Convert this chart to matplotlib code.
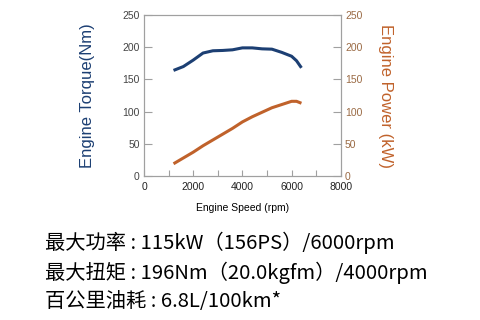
import matplotlib
matplotlib.use("Agg")
import matplotlib.pyplot as plt

# engine curves
rpm = [1200, 1600, 2000, 2400, 2800, 3200, 3600, 4000, 4400, 4800, 5200, 5600, 6000, 6200, 6400]
torque = [164, 170, 180, 191, 194.5, 195, 196, 199, 199, 197.5, 197, 192, 186, 179, 168]
power = [19, 28, 37, 47, 56, 65, 74, 84, 92, 99, 106, 111, 116, 116, 113]

x_ticks = [0, 1000, 2000, 3000, 4000, 5000, 6000, 7000, 8000]
x_labels = ['0', '', '2000', '', '4000', '', '6000', '', '8000']
y_ticks = [0, 50, 100, 150, 200, 250]

spec_lines = [
    "最大功率 : 115kW（156PS）/6000rpm",
    "最大扭矩 : 196Nm（20.0kgfm）/4000rpm",
    "百公里油耗 : 6.8L/100km*",
]

plt.rcParams['font.family'] = ['Liberation Sans', 'DejaVu Sans']

navy = '#1c3f73'
rust = '#c0622b'
grey = '#a0a0a0'

fig = plt.figure(figsize=(4.8, 3.2), dpi=100)
ax = fig.add_axes([0.30, 0.45, 0.41, 0.503])
ax2 = ax.twinx()

ax.plot(rpm, torque, color=navy, lw=2.2, solid_capstyle='butt')
ax2.plot(rpm, power, color=rust, lw=2.2, solid_capstyle='butt')

ax.set_xlim(0, 8000)
ax.set_ylim(0, 250)
ax2.set_ylim(0, 250)
ax.set_xticks(x_ticks)
ax.set_xticklabels(x_labels)
ax.set_yticks(y_ticks)
ax2.set_yticks(y_ticks)

for a in (ax, ax2):
    for s in a.spines.values():
        s.set_color(grey)
        s.set_linewidth(0.8)

ax.tick_params(axis='y', direction='in', length=6, color=grey, labelsize=7.5, labelcolor='#444444', pad=3)
ax.tick_params(axis='x', direction='in', length=4, color=grey, labelsize=7.5, labelcolor='#222222', pad=4)
ax2.tick_params(axis='y', direction='in', length=6, color=grey, labelsize=7.5, labelcolor='#9a6a44', pad=3)

ax.set_xlabel('Engine Speed (rpm)', fontsize=7.5, labelpad=8)
ax.set_ylabel('Engine Torque(Nm)', fontsize=12, color=navy, labelpad=20)
ax2.set_ylabel('Engine Power (kW)', fontsize=12, color=rust, rotation=270, labelpad=22)

for i, line in enumerate(spec_lines):
    fig.text(45 / 480, 1 - (243 + 29.5 * i) / 320, line, fontsize=14.6,
             va='center', ha='left', family=['Noto Sans CJK SC', 'DejaVu Sans'])

fig.savefig('out.png', dpi=100, facecolor='white')
